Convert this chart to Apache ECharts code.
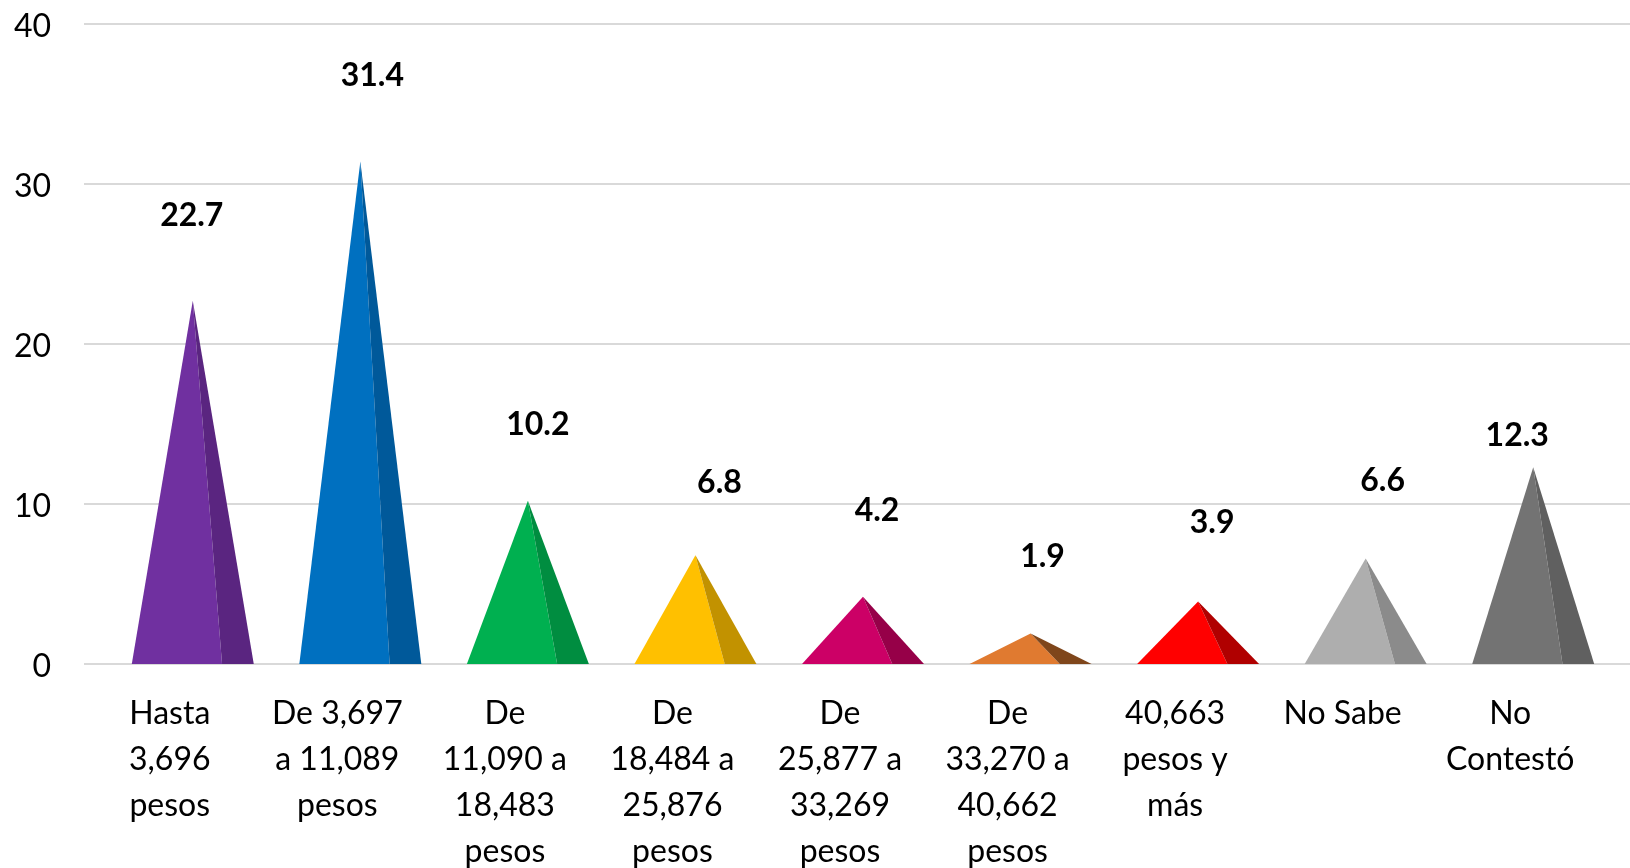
<!DOCTYPE html>
<html>
<head>
<meta charset="utf-8">
<script src="https://cdn.jsdelivr.net/npm/echarts@6/dist/echarts.min.js"></script>
<style>
  html, body { margin: 0; padding: 0; background: #ffffff; }
  #chart { width: 1630px; height: 868px; }
</style>
</head>
<body>
<div id="chart"></div>
<script>
// Income brackets (monthly, pesos) and share of respondents (%)
const categories = [
  'Hasta\n3,696\npesos',
  'De 3,697\na 11,089\npesos',
  'De\n11,090 a\n18,483\npesos',
  'De\n18,484 a\n25,876\npesos',
  'De\n25,877 a\n33,269\npesos',
  'De\n33,270 a\n40,662\npesos',
  '40,663\npesos y\nmás',
  'No Sabe',
  'No\nContestó'
];
const values = [22.7, 31.4, 10.2, 6.8, 4.2, 1.9, 3.9, 6.6, 12.3];

// Front face and shaded right face of each pyramid
const frontColors = ['#7030A0', '#0070C0', '#00B050', '#FFC000', '#CC0066', '#E07A30', '#FF0000', '#AEAEAE', '#737373'];
const sideColors  = ['#5A2580', '#00599A', '#008D40', '#C29200', '#960048', '#7F461B', '#B00000', '#8B8B8B', '#606060'];

// Value axis ticks
const yMin = 0, yMax = 40, yStep = 10;

// Placement of each value label relative to its pyramid tip (px)
const labelShift = [[-1, -85], [12, -86], [10, -76], [24, -73], [14, -86], [12, -77], [14, -79], [17, -78], [-16, -32]];

const FONT = 'Lato, "Open Sans", "Liberation Sans", sans-serif';
const PYRAMID_DX = 23;      // perspective shift of the pyramids to the right of their labels
const BASE_RATIO = 0.728;   // base width as a share of the category band
const SPLIT = 0.74;         // where the ridge meets the base

const chart = echarts.init(document.getElementById('chart'), null, { renderer: 'canvas' });

function renderPyramid(params, api) {
  const i = api.value(0);
  const v = api.value(1);
  const tip = api.coord([i, v]);
  const base = api.coord([i, 0]);
  const band = api.size([1, 0])[0];
  const w = band * BASE_RATIO;
  const cx = base[0] + PYRAMID_DX;
  const left = cx - w / 2;
  const right = cx + w / 2;
  const ridge = left + w * SPLIT;
  const top = [cx, tip[1]];
  const shift = labelShift[i];
  return {
    type: 'group',
    children: [
      {
        type: 'polygon',
        shape: { points: [top, [left, base[1]], [ridge, base[1]]] },
        style: { fill: frontColors[i] }
      },
      {
        type: 'polygon',
        shape: { points: [top, [ridge, base[1]], [right, base[1]]] },
        style: { fill: sideColors[i] }
      },
      {
        type: 'text',
        x: cx + shift[0],
        y: tip[1] + shift[1],
        style: {
          text: v.toFixed(1),
          font: 'bold 32px ' + FONT,
          fill: '#000000',
          align: 'center',
          verticalAlign: 'middle'
        }
      }
    ]
  };
}

chart.setOption({
  backgroundColor: '#ffffff',
  animation: false,
  grid: [
    // plotting band for the pyramids and category labels
    { left: 86, width: 1508, top: 24, bottom: 204, outerBoundsMode: 'none', containLabel: false },
    // full-width gridlines
    { left: 84, right: 0, top: 24, bottom: 204, outerBoundsMode: 'none', containLabel: false },
    // value tick labels, sitting slightly below their gridlines
    { left: 84, right: 0, top: 27, bottom: 201, outerBoundsMode: 'none', containLabel: false }
  ],
  xAxis: [
    {
      type: 'category',
      gridIndex: 0,
      data: categories,
      axisLine: { show: false },
      axisTick: { show: false },
      axisLabel: {
        interval: 0,
        margin: 27,
        color: '#000000',
        fontFamily: FONT,
        fontSize: 32,
        lineHeight: 46,
        align: 'center',
        verticalAlign: 'top'
      }
    },
    { type: 'value', gridIndex: 1, min: 0, max: 1, show: false },
    { type: 'value', gridIndex: 2, min: 0, max: 1, show: false }
  ],
  yAxis: [
    { type: 'value', gridIndex: 0, min: yMin, max: yMax, interval: yStep, show: false },
    {
      type: 'value',
      gridIndex: 1,
      min: yMin,
      max: yMax,
      interval: yStep,
      axisLine: { show: false },
      axisTick: { show: false },
      axisLabel: { show: false },
      splitLine: { show: true, lineStyle: { color: '#D9D9D9', width: 2 } }
    },
    {
      type: 'value',
      gridIndex: 2,
      min: yMin,
      max: yMax,
      interval: yStep,
      axisLine: { show: false },
      axisTick: { show: false },
      splitLine: { show: false },
      axisLabel: {
        margin: 33,
        color: '#000000',
        fontFamily: FONT,
        fontSize: 32
      }
    }
  ],
  series: [
    {
      type: 'custom',
      xAxisIndex: 0,
      yAxisIndex: 0,
      renderItem: renderPyramid,
      encode: { x: 0, y: 1 },
      data: values.map((v, i) => [i, v]),
      z: 5
    }
  ]
});
</script>
</body>
</html>
